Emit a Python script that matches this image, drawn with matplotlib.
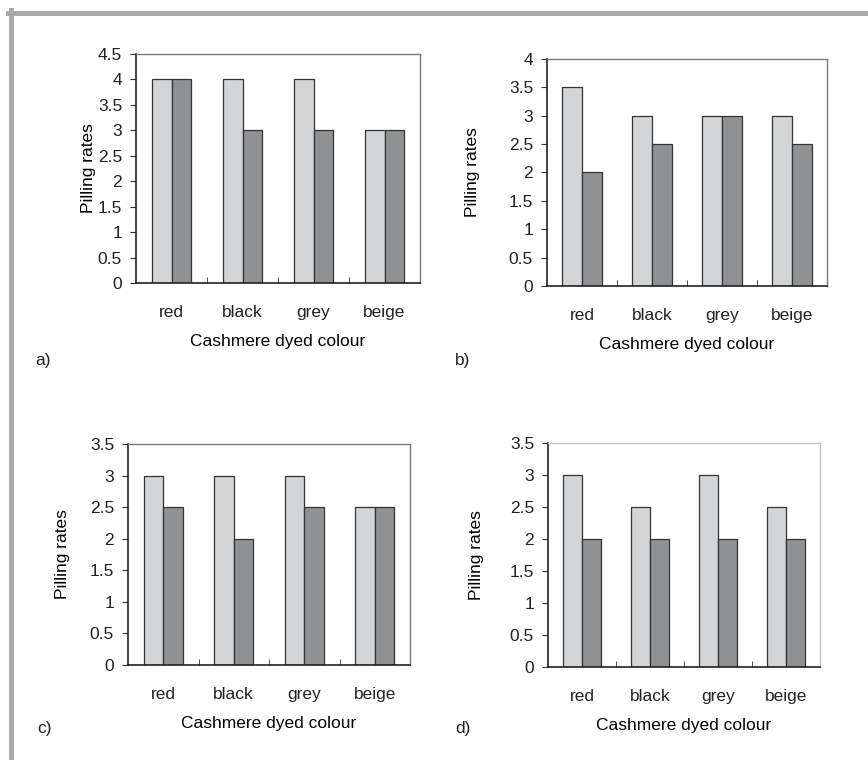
import matplotlib
matplotlib.use("Agg")
from matplotlib import pyplot as plt
from matplotlib.lines import Line2D
import numpy as np

plt.rcParams['font.family'] = ['Liberation Sans', 'DejaVu Sans']
plt.rcParams['font.size'] = 12.5
plt.rcParams['text.color'] = '#222222'
plt.rcParams['xtick.color'] = '#222222'
plt.rcParams['ytick.color'] = '#222222'

colours = ['red', 'black', 'grey', 'beige']

# pilling rates, two bars per colour (light / dark)
a_light = [4, 4, 4, 3]
a_dark = [4, 3, 3, 3]
b_light = [3.5, 3, 3, 3]
b_dark = [2, 2.5, 3, 2.5]
c_light = [3, 3, 3, 2.5]
c_dark = [2.5, 2, 2.5, 2.5]
d_light = [3, 2.5, 3, 2.5]
d_dark = [2, 2, 2, 2]

W, H = 868, 760
fig = plt.figure(figsize=(W / 100, H / 100), dpi=100)


def px_axes(x0, y0, x1, y1):
    # pixel box (top-left origin) -> figure fraction
    return fig.add_axes([x0 / W, 1 - y1 / H, (x1 - x0) / W, (y1 - y0) / H])


def panel(ax, light, dark, ymax, ylab_x, frame_col='#7a7a7a'):
    x = np.arange(len(colours))
    w = 0.28
    ax.bar(x - w / 2, light, w, color='#d3d4d6', edgecolor='#333333', linewidth=0.9)
    ax.bar(x + w / 2, dark, w, color='#909193', edgecolor='#333333', linewidth=0.9)
    ax.set_xlim(-0.5, len(colours) - 0.5)
    ax.set_ylim(0, ymax)
    ticks = np.arange(0, ymax + 0.01, 0.5)
    ax.set_yticks(ticks)
    ax.set_yticklabels(['%g' % t for t in ticks])
    ax.set_xticks(x)
    ax.set_xticklabels(colours)
    ax.set_xticks(np.arange(0.5, len(colours) - 0.5, 1), minor=True)
    ax.tick_params(axis='x', which='major', length=0, pad=16)
    ax.tick_params(axis='x', which='minor', direction='in', length=4, color='#333333')
    ax.tick_params(axis='y', direction='out', length=4, pad=6, color='#333333')
    for s in ['left', 'bottom']:
        ax.spines[s].set_color('#222222')
        ax.spines[s].set_linewidth(1.2)
    for s in ['top', 'right']:
        ax.spines[s].set_color(frame_col)
        ax.spines[s].set_linewidth(1.0)
    ax.set_xlabel('Cashmere dyed colour', labelpad=10)
    ax.set_ylabel('Pilling rates', va='center')
    # y label centred on a pixel column
    x0 = ax.get_position().x0 * W
    ax.yaxis.set_label_coords(-(x0 - ylab_x) / (ax.get_position().width * W), 0.5)


ax_a = px_axes(136, 54, 420, 283)
panel(ax_a, a_light, a_dark, 4.5, 88)
ax_b = px_axes(547, 59, 827, 286)
panel(ax_b, b_light, b_dark, 4, 473)
ax_c = px_axes(128, 444, 410, 665)
panel(ax_c, c_light, c_dark, 3.5, 63)
ax_d = px_axes(548, 443, 820, 667)
panel(ax_d, d_light, d_dark, 3.5, 477, frame_col='#c2c2c2')

# panel letters
fig.text(35 / W, 1 - 361 / H, 'a)', va='center', ha='left')
fig.text(455 / W, 1 - 361 / H, 'b)', va='center', ha='left')
fig.text(37 / W, 1 - 729 / H, 'c)', va='center', ha='left')
fig.text(455 / W, 1 - 729 / H, 'd)', va='center', ha='left')

# grey frame on top and left
fig.add_artist(Line2D([8 / W, 1], [1 - 12.5 / H, 1 - 12.5 / H], color='#a9a9a9', linewidth=3.6))
fig.add_artist(Line2D([10.5 / W, 10.5 / W], [0, 1 - 10 / H], color='#a9a9a9', linewidth=3.6))

fig.savefig('out.png', dpi=100)
